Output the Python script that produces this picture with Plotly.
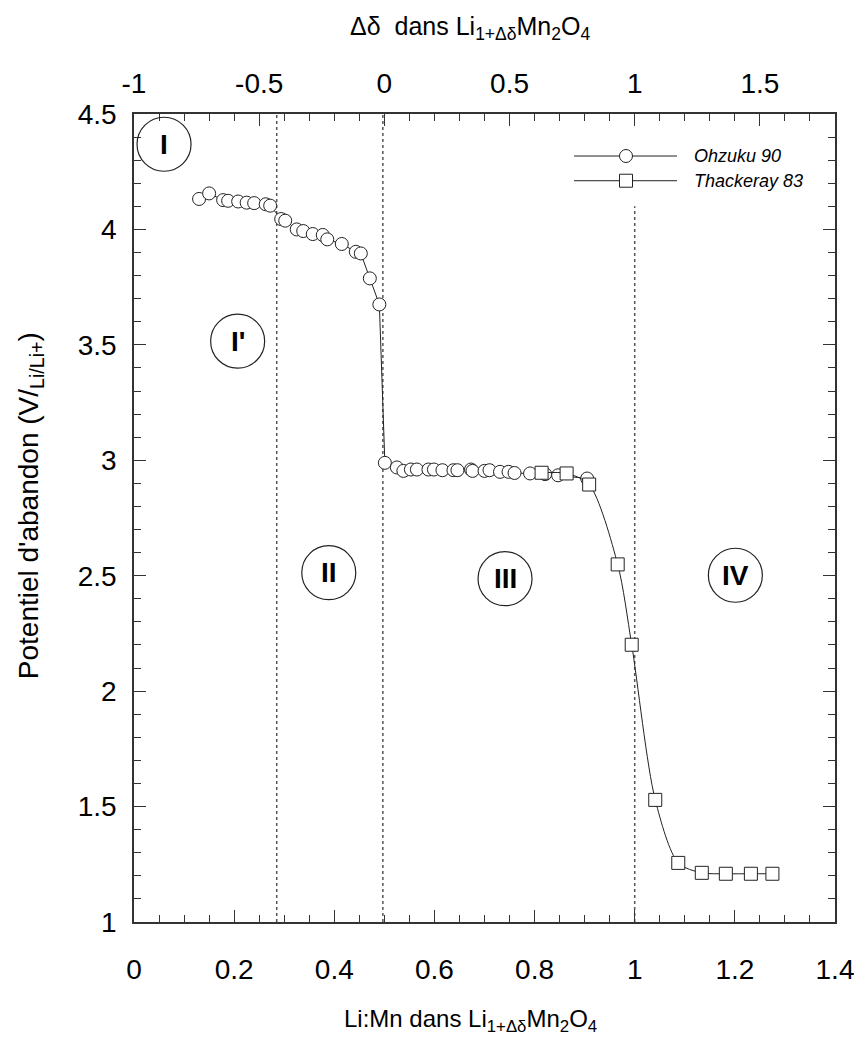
import plotly.graph_objects as go

# ---- data ----
ohzuku_x = [0.130, 0.150, 0.178, 0.188, 0.208, 0.225, 0.240, 0.263, 0.272, 0.294, 0.302,
            0.325, 0.338, 0.357, 0.377, 0.386, 0.415, 0.443, 0.453, 0.471, 0.490, 0.501,
            0.525, 0.538, 0.553, 0.565, 0.588, 0.599, 0.616, 0.638, 0.646, 0.673, 0.676,
            0.700, 0.710, 0.731, 0.748, 0.760, 0.791, 0.821, 0.847, 0.905]
ohzuku_y = [4.132, 4.156, 4.127, 4.124, 4.121, 4.116, 4.114, 4.109, 4.103, 4.045, 4.038,
            4.000, 3.993, 3.980, 3.976, 3.957, 3.937, 3.903, 3.896, 3.788, 3.675, 2.989,
            2.969, 2.954, 2.960, 2.960, 2.960, 2.960, 2.957, 2.957, 2.957, 2.960, 2.954,
            2.954, 2.957, 2.950, 2.950, 2.945, 2.943, 2.940, 2.935, 2.921]

thackeray_x = [0.814, 0.864, 0.909, 0.966, 0.994, 1.041, 1.087, 1.134, 1.182, 1.232, 1.275]
thackeray_y = [2.946, 2.943, 2.895, 2.549, 2.201, 1.529, 1.256, 1.213, 1.209, 1.209, 1.209]

region_labels = ["I", "I'", "II", "III", "IV"]
region_x = [0.060, 0.207, 0.389, 0.741, 1.201]
region_y = [4.369, 3.516, 2.513, 2.487, 2.502]

boundary_x = [0.285, 0.497, 1.0]
boundary_ytop = [4.5, 4.5, 4.1]

top_tickvals = [-1, -0.5, 0, 0.5, 1, 1.5]
top_ticktext = ["-1", "-0.5", "0", "0.5", "1", "1.5"]

series_names = ["Ohzuku 90", "Thackeray 83"]

FONT = "Liberation Sans, Arial, Helvetica, sans-serif"
INK = "#222222"

fig = go.Figure()

fig.add_trace(go.Scatter(
    x=ohzuku_x, y=ohzuku_y, mode="lines+markers", name=series_names[0],
    line=dict(color=INK, width=1),
    marker=dict(symbol="circle", size=13, color="white", line=dict(color=INK, width=1)),
    showlegend=False))

fig.add_trace(go.Scatter(
    x=thackeray_x, y=thackeray_y, mode="lines+markers", name=series_names[1],
    line=dict(color=INK, width=1, shape="spline", smoothing=0.8),
    marker=dict(symbol="square", size=13, color="white", line=dict(color=INK, width=1)),
    showlegend=False))

# invisible trace to activate the top (delta-delta) axis
fig.add_trace(go.Scatter(
    x=[2 * v - 1 for v in ohzuku_x], y=ohzuku_y, xaxis="x2", mode="markers",
    marker=dict(opacity=0), hoverinfo="skip", showlegend=False))

shapes = []
for bx, bt in zip(boundary_x, boundary_ytop):
    shapes.append(dict(type="line", xref="x", yref="y", x0=bx, x1=bx, y0=1, y1=bt,
                       line=dict(color="#555555", width=1.5, dash="dot"), layer="below"))

annotations = []
for lab, lx, ly in zip(region_labels, region_x, region_y):
    shapes.append(dict(type="circle", xref="x", yref="y", xsizemode="pixel", ysizemode="pixel",
                       xanchor=lx, yanchor=ly, x0=-27, x1=27, y0=-27, y1=27,
                       line=dict(color=INK, width=1.2)))
    annotations.append(dict(x=lx, y=ly, xref="x", yref="y", text="<b>%s</b>" % lab,
                            showarrow=False, font=dict(family=FONT, size=28, color="black"),
                            xanchor="center", yanchor="middle"))

# manual legend
PL, PR, PT, PB = 134, 835, 114, 921.6
PW, PH = PR - PL, PB - PT
def px2paper(px, py):
    return (px - PL) / PW, (PB - py) / PH

for i, (name, sym) in enumerate(zip(series_names, ["circle", "rect"])):
    py = 156 + i * 24.7
    x0, y0 = px2paper(574, py)
    x1, _ = px2paper(677, py)
    xm, _ = px2paper(626, py)
    xt, _ = px2paper(692, py)
    shapes.append(dict(type="line", xref="paper", yref="paper", x0=x0, x1=x1, y0=y0, y1=y0,
                       line=dict(color=INK, width=1)))
    shapes.append(dict(type=sym, xref="paper", yref="paper", xsizemode="pixel", ysizemode="pixel",
                       xanchor=xm, yanchor=y0, x0=-6.5, x1=6.5, y0=-6.5, y1=6.5,
                       fillcolor="white", line=dict(color=INK, width=1)))
    annotations.append(dict(x=xt, y=y0, xref="paper", yref="paper", text="<i>%s</i>" % name,
                            showarrow=False, xanchor="left", yanchor="middle",
                            font=dict(family=FONT, size=18, color="black")))

# axis titles
annotations.append(dict(x=0, y=(PB - 506) / PH, xref="paper", yref="paper", xanchor="center",
                        yanchor="middle", xshift=-104, textangle=-90, showarrow=False,
                        text="Potentiel d'abandon (V/<sub>Li/Li+</sub>)",
                        font=dict(family=FONT, size=28, color="black")))
annotations.append(dict(x=(470 - PL) / PW, y=0, xref="paper", yref="paper", xanchor="center",
                        yanchor="top", yshift=-81, showarrow=False,
                        text="Li:Mn dans Li<sub>1+\u0394\u03b4</sub>Mn<sub>2</sub>O<sub>4</sub>",
                        font=dict(family=FONT, size=24, color="black")))
annotations.append(dict(x=(470 - PL) / PW, y=1, xref="paper", yref="paper", xanchor="center",
                        yanchor="bottom", yshift=68, showarrow=False,
                        text="\u0394\u03b4\u00a0 dans Li<sub>1+\u0394\u03b4</sub>Mn<sub>2</sub>O<sub>4</sub>",
                        font=dict(family=FONT, size=25, color="black")))

axis_common = dict(showgrid=False, zeroline=False, showline=True, linewidth=1.5, linecolor="#333333",
                   ticks="inside", ticklen=12, tickwidth=1.3, tickcolor="#333333",
                   ticklabeloverflow="allow", automargin=False,
                   tickfont=dict(family=FONT, size=28, color="black"))

fig.update_layout(
    width=859, height=1043,
    margin=dict(l=PL, r=859 - PR, t=PT, b=1043 - PB, autoexpand=False),
    paper_bgcolor="white", plot_bgcolor="white",
    showlegend=False,
    xaxis=dict(range=[0, 1.4], tick0=0, dtick=0.2, mirror=False, ticklabelstandoff=22,
               minor=dict(ticks="inside", ticklen=7, dtick=0.05, tickcolor="#333333", tickwidth=1.2),
               **axis_common),
    xaxis2=dict(range=[-1, 1.8], tickvals=top_tickvals, ticktext=top_ticktext,
                overlaying="x", side="top", ticklabelstandoff=8,
                minor=dict(ticks="inside", ticklen=7, dtick=0.1, tickcolor="#333333", tickwidth=1.2),
                **axis_common),
    yaxis=dict(range=[1, 4.5], tick0=1, dtick=0.5, mirror="ticks", ticklabelstandoff=10,
               minor=dict(ticks="inside", ticklen=7, dtick=0.1, tickcolor="#333333", tickwidth=1.2),
               **axis_common),
    shapes=shapes, annotations=annotations,
)

fig.write_html("out.html", config={"displayModeBar": False},
               post_script="document.body.style.margin='0';document.body.style.overflow='hidden';")
